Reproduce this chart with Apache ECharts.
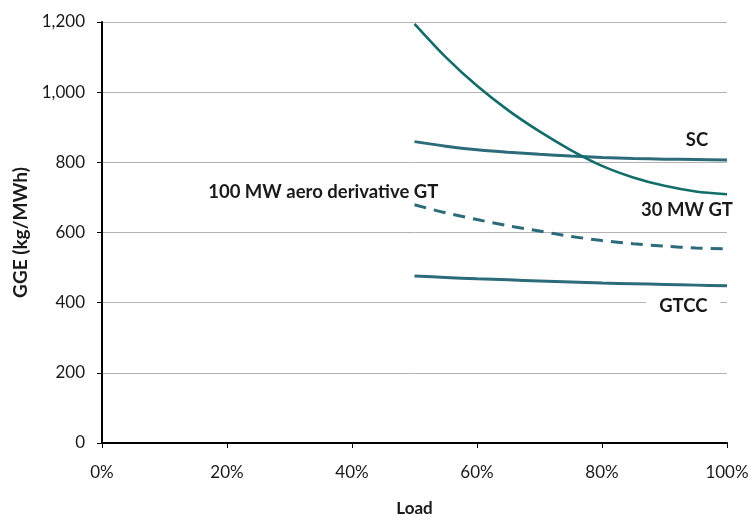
<!DOCTYPE html>
<html>
<head>
<meta charset="utf-8">
<script src="https://cdn.jsdelivr.net/npm/echarts@6/dist/echarts.min.js"></script>
<style>
html,body{margin:0;padding:0;background:#fff;}
#chart{width:751px;height:516px;}
</style>
</head>
<body>
<div id="chart"></div>
<script>
var loads = [50, 55, 60, 65, 70, 75, 80, 85, 90, 95, 100];
var gt30 = [1195, 1100, 1018, 948, 888, 835, 790, 757, 733, 717, 709];
var sc = [859, 846, 836, 829, 823, 818, 814, 811, 809, 808, 807];
var aero100 = [679, 656, 637, 619, 604, 589, 577, 568, 561, 556, 553];
var gtcc = [476, 472, 468, 465, 462, 459, 456, 454, 452, 450, 448];
var xTicks = [0, 20, 40, 60, 80, 100];
var yTicks = [0, 200, 400, 600, 800, 1000, 1200];

function pairs(vals) { return loads.map(function (x, i) { return [x, vals[i]]; }); }

var FONT = 'Lato';
var TXT = '#1a1a1a';
var tealBlue = '#2c6c7a';
var tealGreen = '#0f6e6a';

function tag(text, coord, extra) {
  var lbl = { show: true, formatter: text, fontFamily: FONT, fontWeight: 'bold', fontSize: 18.5, color: TXT, position: 'inside' };
  for (var k in extra) lbl[k] = extra[k];
  return { coord: coord, symbol: 'circle', symbolSize: 0, label: lbl };
}

var chart = echarts.init(document.getElementById('chart'), null, { renderer: 'canvas' });
chart.setOption({
  animation: false,
  backgroundColor: '#fff',
  grid: { left: 102, right: 24, top: 22, bottom: 73, containLabel: false, outerBoundsMode: 'none' },
  xAxis: {
    type: 'value', min: xTicks[0], max: xTicks[xTicks.length - 1], interval: 20,
    name: 'Load', nameLocation: 'middle', nameGap: 57,
    nameTextStyle: { fontFamily: FONT, fontWeight: 'bold', fontSize: 17, color: TXT },
    axisLine: { show: true, lineStyle: { color: '#000', width: 2 } },
    axisTick: { show: true, length: 5, lineStyle: { color: '#000', width: 1 } },
    axisLabel: { formatter: '{value}%', fontFamily: FONT, fontSize: 17, color: TXT, margin: 21 },
    splitLine: { show: false }
  },
  yAxis: {
    type: 'value', min: yTicks[0], max: yTicks[yTicks.length - 1], interval: 200,
    name: 'GGE (kg/MWh)', nameLocation: 'middle', nameGap: 71, nameRotate: 90,
    nameTextStyle: { fontFamily: FONT, fontWeight: 'bold', fontSize: 19, color: TXT },
    axisLine: { show: true, lineStyle: { color: '#000', width: 2 } },
    axisTick: { show: true, length: 5, lineStyle: { color: '#000', width: 1 } },
    axisLabel: {
      fontFamily: FONT, fontSize: 17, color: TXT, margin: 17,
      formatter: function (v) { return v.toLocaleString('en-US'); }
    },
    splitLine: { show: true, lineStyle: { color: '#b3b3b3', width: 1 } }
  },
  series: [
    {
      name: '30 MW GT', type: 'line', data: pairs(gt30), smooth: 0.3, showSymbol: false, clip: true,
      lineStyle: { color: tealGreen, width: 2.6 }, z: 3,
      markPoint: { data: [ tag('30 MW GT', [93.6, 664], {}) ] }
    },
    {
      name: 'SC', type: 'line', data: pairs(sc), smooth: 0.3, showSymbol: false,
      lineStyle: { color: tealBlue, width: 3 }, z: 2,
      markPoint: { data: [ tag('SC', [95.2, 864], {}) ] }
    },
    {
      name: '100 MW aero derivative GT', type: 'line', data: pairs(aero100), smooth: 0.3, showSymbol: false,
      lineStyle: { color: tealBlue, width: 3, type: [12, 8] }, z: 2,
      markPoint: { data: [ tag('100 MW aero derivative GT', [35.4, 716], {}) ] }
    },
    {
      name: 'GTCC', type: 'line', data: pairs(gtcc), smooth: 0.3, showSymbol: false,
      lineStyle: { color: tealBlue, width: 3 }, z: 2,
      markPoint: { data: [ tag('GTCC', [93, 389], { backgroundColor: '#fff', padding: [0, 13, 0, 13] }) ] }
    }
  ]
});
</script>
</body>
</html>
